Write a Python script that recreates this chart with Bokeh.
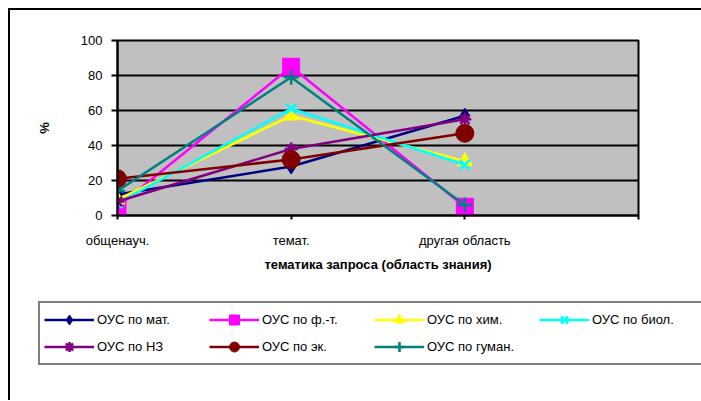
from bokeh.plotting import figure
from bokeh.layouts import column, row
from bokeh.models import FixedTicker, Legend, LegendItem, Range1d
from bokeh.embed import file_html
from bokeh.resources import INLINE

categories = ["общенауч.", "темат.", "другая область", ""]
series_names = ["ОУС по мат.", "ОУС по ф.-т.", "ОУС по хим.", "ОУС по биол.",
                "ОУС по НЗ", "ОУС по эк.", "ОУС по гуман."]
mat = [12, 28, 57]
ft = [5, 85, 5]
him = [9, 57, 31]
biol = [7, 61, 29]
nz = [8, 38, 55]
ek = [21, 32, 47]
guman = [14, 79, 6]
y_ticks = [0, 20, 40, 60, 80, 100]

series = [mat, ft, him, biol, nz, ek, guman]
colors = ["#000080", "#FF00FF", "#FFFF00", "#00FFFF", "#800080", "#800000", "#008080"]
markers = ["diamond", "square", "triangle", "x", "asterisk", "circle", "cross"]
sizes = [15, 17, 15, 14, 13, 18, 15]
legend_sizes = [14, 15, 13, 11, 10, 14, 12]

FONT = "Liberation Sans"

p = figure(width=691, height=280, output_backend="svg", toolbar_location=None,
           x_range=(0, 3), y_range=(0, 100),
           min_border_left=107, min_border_right=63, min_border_top=30, min_border_bottom=75)

p.background_fill_color = "#C0C0C0"
p.outline_line_color = "black"
p.outline_line_width = 2

p.xgrid.grid_line_color = None
p.ygrid.grid_line_color = "black"
p.ygrid.grid_line_width = 2
p.ygrid.ticker = FixedTicker(ticks=y_ticks)

p.xaxis.ticker = FixedTicker(ticks=list(range(len(categories))))
p.xaxis.major_label_overrides = {i: c for i, c in enumerate(categories)}
p.yaxis.ticker = FixedTicker(ticks=y_ticks)

for ax in (p.xaxis, p.yaxis):
    ax.axis_line_color = "black"
    ax.axis_line_width = 2
    ax.major_tick_line_color = "black"
    ax.major_tick_line_width = 2
    ax.major_tick_in = 0
    ax.minor_tick_line_color = None
    ax.major_label_text_font = FONT
    ax.major_label_text_font_size = "13px"
    ax.major_label_text_color = "black"
    ax.axis_label_text_font = FONT
    ax.axis_label_text_font_size = "13px"
    ax.axis_label_text_font_style = "bold"
    ax.axis_label_text_color = "black"

p.xaxis.major_tick_out = 4
p.xaxis.major_label_standoff = 13
p.xaxis.axis_label = "тематика запроса (область знания)"
p.xaxis.axis_label_standoff = 6

p.yaxis.major_tick_out = 6
p.yaxis.major_label_standoff = 9
p.yaxis.axis_label = "%"
p.yaxis.axis_label_standoff = 26

xs = list(range(3))
for vals, c, m, s in zip(series, colors, markers, sizes):
    p.line(xs, vals, line_color=c, line_width=2.5)
    lw = 2.5 if m in ("x", "asterisk", "cross") else 1
    p.scatter(xs, vals, marker=m, size=s, fill_color=c, line_color=c, line_width=lw)

# legend panel below the chart (its glyphs lie outside its ranges; only the legend shows)
lp = figure(width=691, height=110, output_backend="svg", toolbar_location=None,
            x_range=Range1d(100, 200), y_range=Range1d(1000, 2000),
            min_border=0, min_border_left=0, min_border_right=0,
            min_border_top=0, min_border_bottom=0)
lp.axis.visible = False
lp.grid.visible = False
lp.outline_line_color = None
lp.background_fill_color = "white"

items = []
for name, vals, c, m, s in zip(series_names, series, colors, markers, legend_sizes):
    r1 = lp.line(xs, vals, line_color=c, line_width=2.5)
    lw = 2.5 if m in ("x", "asterisk", "cross") else 1
    r2 = lp.scatter(xs, vals, marker=m, size=s, fill_color=c, line_color=c, line_width=lw)
    items.append(LegendItem(label=name, renderers=[r1, r2]))

legend = Legend(items=items, orientation="horizontal", ncols=4,
                location=(28, 35),
                glyph_width=50, glyph_height=25, label_height=25, label_width=110,
                label_standoff=3, spacing=2, padding=4, margin=0,
                label_text_font=FONT, label_text_font_size="13px", label_text_color="black",
                border_line_color="black", border_line_width=2,
                background_fill_color="white", background_fill_alpha=1)
lp.add_layout(legend, "center")

layout = column(row(p), row(lp), spacing=0)
layout.styles = {"margin-left": "8px", "margin-top": "8px",
                 "border-left": "2px solid black", "border-top": "2px solid black"}

open("out.html", "w").write(file_html(layout, INLINE))
